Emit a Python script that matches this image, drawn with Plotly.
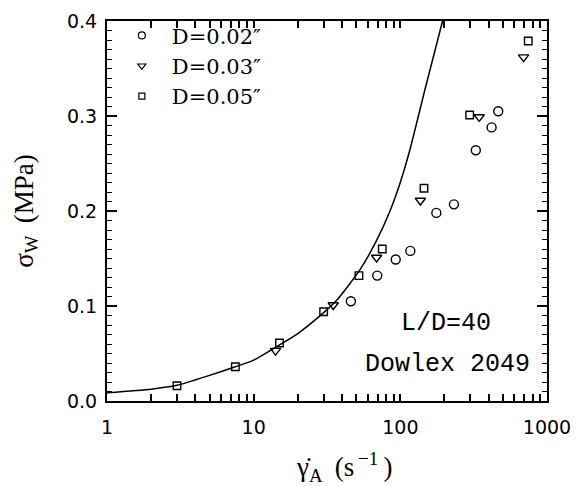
import plotly.graph_objects as go

# model curve
curve_x = [1, 2, 3, 5, 7.5, 10, 15, 20, 30, 36.8, 53, 68.9, 85, 99.4, 116, 149, 194]
curve_y = [0.0087, 0.0125, 0.0165, 0.027, 0.036, 0.043, 0.059, 0.071, 0.093, 0.106,
           0.138, 0.169, 0.200, 0.229, 0.264, 0.331, 0.40]

# D = 0.02"
d02_x = [46, 69.6, 93, 117, 176, 232, 327, 419, 465]
d02_y = [0.105, 0.132, 0.149, 0.158, 0.198, 0.207, 0.264, 0.288, 0.305]

# D = 0.03"
d03_x = [14.1, 34.9, 68.9, 137, 345, 692]
d03_y = [0.053, 0.101, 0.151, 0.211, 0.299, 0.362]

# D = 0.05"
d05_x = [3.0, 7.5, 15.0, 30.0, 52.2, 75.3, 145, 297, 745]
d05_y = [0.016, 0.036, 0.061, 0.094, 0.132, 0.160, 0.224, 0.301, 0.379]

series_names = ["D=0.02″", "D=0.03″", "D=0.05″"]
x_ticks = [1, 10, 100, 1000]
x_minor = [m * 10 ** e for e in range(3) for m in range(2, 10)]
y_ticks = [0.0, 0.1, 0.2, 0.3, 0.4]

x_all = sorted(x_ticks + x_minor)
x_all_text = [str(v) if v in x_ticks else "" for v in x_all]

symbols = ["circle-open", "triangle-down-open", "square-open"]
data_sizes = [9, 9, 7.5]
legend_sizes = [7, 7, 6]

fig = go.Figure()
fig.add_trace(go.Scatter(x=curve_x, y=curve_y, mode="lines",
                         line=dict(color="black", width=1.5, shape="spline", smoothing=0.6),
                         showlegend=False))
for xs, ys, sym, sz in zip([d02_x, d03_x, d05_x], [d02_y, d03_y, d05_y], symbols, data_sizes):
    fig.add_trace(go.Scatter(x=xs, y=ys, mode="markers", showlegend=False,
                             marker=dict(symbol=sym, size=sz, color="black",
                                         line=dict(width=1.4, color="black"))))
# legend entries (no data, legend symbols only)
for name, sym, sz in zip(series_names, symbols, legend_sizes):
    fig.add_trace(go.Scatter(x=[None], y=[None], mode="markers", name=name,
                             marker=dict(symbol=sym, size=sz, color="black",
                                         line=dict(width=1.2, color="black"))))

fig.add_annotation(x=0.771, y=0.203, xref="paper", yref="paper", xanchor="center",
                   yanchor="middle", text="L/D=40", showarrow=False,
                   font=dict(family="Liberation Mono", size=25, color="black"))
fig.add_annotation(x=0.966, y=0.097, xref="paper", yref="paper", xanchor="right",
                   yanchor="middle", text="Dowlex 2049", showarrow=False,
                   font=dict(family="Liberation Mono", size=25, color="black"))
# x-axis title
fig.add_annotation(x=0.54, y=-0.174, xref="paper", yref="paper", xanchor="center",
                   yanchor="middle", showarrow=False,
                   text="γ̇<sub>A</sub>\u2009 (s<sup>\u2009−1</sup>\u2009)",
                   font=dict(family="Liberation Serif", size=27, color="black"))

axis_common = dict(showline=True, linecolor="black", linewidth=2, mirror="ticks",
                   ticks="inside", tickwidth=1.5, tickcolor="black",
                   showgrid=False, zeroline=False, automargin=False,
                   tickfont=dict(family="DejaVu Sans", size=19, color="black"))

fig.update_layout(
    xaxis=dict(type="log", range=[0, 3], tickvals=x_all, ticktext=x_all_text,
               ticklen=7, ticklabelstandoff=8, **axis_common),
    yaxis=dict(range=[0, 0.4], tickvals=y_ticks, ticklen=10,
               ticktext=[f"{v:.1f}" for v in y_ticks], ticklabelstandoff=4,
               minor=dict(ticks="inside", ticklen=5, dtick=0.01, tickcolor="black",
                          tickwidth=1, showgrid=False),
               title=dict(text="σ<sub>W</sub>\u2009 (MPa)",
                          font=dict(family="Liberation Serif", size=27, color="black"),
                          standoff=26),
               **axis_common),
)

fig.update_layout(width=577, height=486, plot_bgcolor="white", paper_bgcolor="white",
                  margin=dict(l=107, r=30, t=21, b=85),
                  legend=dict(x=0.011, y=1.015, xanchor="left", yanchor="top",
                              bgcolor="rgba(0,0,0,0)",
                              font=dict(family="DejaVu Serif", size=21, color="black"),
                              itemwidth=50, tracegroupgap=0))

fig.write_html("out.html")
